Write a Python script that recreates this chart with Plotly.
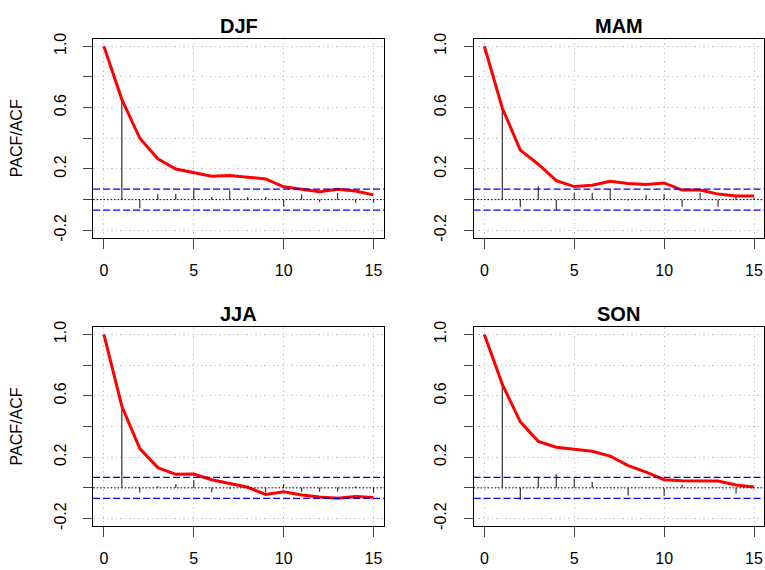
import plotly.graph_objects as go

# ---------------- data ----------------
lags_acf = list(range(0, 16))
lags_pacf = list(range(1, 16))
seasons = ["DJF", "MAM", "JJA", "SON"]

acf_djf = [1.0, 0.654, 0.40, 0.266, 0.20, 0.174, 0.153, 0.157, 0.148, 0.135,
           0.084, 0.067, 0.052, 0.067, 0.056, 0.031]
pacf_djf = [0.654, -0.056, 0.038, 0.038, 0.064, 0.017, 0.06, 0.017, 0.017,
            -0.047, 0.034, -0.015, 0.043, -0.021, -0.021]

acf_mam = [1.0, 0.596, 0.323, 0.231, 0.124, 0.085, 0.094, 0.12, 0.105, 0.098,
           0.109, 0.062, 0.062, 0.036, 0.024, 0.024]
pacf_mam = [0.596, -0.049, 0.088, -0.066, 0.045, 0.045, 0.07, -0.006, 0.032,
            0.036, -0.047, 0.045, -0.047, 0.015, 0.01]

acf_jja = [1.0, 0.532, 0.256, 0.132, 0.088, 0.09, 0.053, 0.03, 0.004, -0.043,
           -0.026, -0.047, -0.06, -0.068, -0.056, -0.062]
pacf_jja = [0.532, -0.03, 0.01, 0.026, 0.049, -0.028, -0.005, 0.01, -0.028,
            0.026, -0.026, -0.026, -0.026, 0.01, -0.032]

acf_son = [1.0, 0.675, 0.43, 0.303, 0.265, 0.254, 0.239, 0.207, 0.145, 0.103,
           0.053, 0.047, 0.045, 0.045, 0.019, 0.006]
pacf_son = [0.675, -0.077, 0.066, 0.088, 0.06, 0.038, 0.003, -0.049, 0.0,
            -0.053, 0.021, 0.0, 0.003, -0.036, 0.0]

ci_bounds = [0.069, 0.069, 0.068, 0.068]

acf_all = [acf_djf, acf_mam, acf_jja, acf_son]
pacf_all = [pacf_djf, pacf_mam, pacf_jja, pacf_son]

x_ticks = [0, 5, 10, 15]
y_ticks = [-0.2, 0.0, 0.2, 0.4, 0.6, 0.8, 1.0]
y_ticktext = ["-0.2", "", "0.2", "", "0.6", "", "1.0"]
y_title = "PACF/ACF"

# ---------------- layout geometry ----------------
W, H = 765, 570
FONT = "Liberation Sans, Arial, Helvetica, sans-serif"
px_per_lag = 18.0
col_left = [93.2, 474.2]
col_right = [384.8, 765.0]
row_top = [33.5, 326.8]
row_bot = [235.8, 529.2]
y_range = [-0.248, 1.048]

fig = go.Figure()

for i, name in enumerate(seasons):
    r, c = divmod(i, 2)
    idx = i + 1
    xa = "x" if idx == 1 else f"x{idx}"
    ya = "y" if idx == 1 else f"y{idx}"
    acf = acf_all[i]
    pacf = pacf_all[i]

    # PACF spikes
    sx, sy = [], []
    for lag, v in zip(lags_pacf, pacf):
        sx += [lag, lag, None]
        sy += [0, v, None]
    fig.add_trace(go.Scatter(x=sx, y=sy, mode="lines",
                             line=dict(color="#333333", width=1.2),
                             xaxis=xa, yaxis=ya, showlegend=False, hoverinfo="skip"))
    # ACF line
    fig.add_trace(go.Scatter(x=lags_acf, y=acf, mode="lines",
                             line=dict(color="#ff0000", width=3),
                             xaxis=xa, yaxis=ya, showlegend=False))

    xref_dom = f"{xa} domain"
    # zero line (dotted black)
    fig.add_shape(type="line", xref=xref_dom, yref=ya, x0=0, x1=1, y0=0, y1=0,
                  line=dict(color="black", width=1, dash="1.5px,2px"))
    # confidence bounds
    for s in (1, -1):
        fig.add_shape(type="line", xref=xref_dom, yref=ya, x0=0, x1=1,
                      y0=s * ci_bounds[i], y1=s * ci_bounds[i],
                      line=dict(color="#0000ff", width=1.3, dash="7px,3px"))

    x0p, x1p = col_left[c], col_right[c]
    y0p, y1p = row_top[r], row_bot[r]
    xdom = [x0p / W, x1p / W]
    ydom = [1 - y1p / H, 1 - y0p / H]
    xr = [-0.6, -0.6 + (x1p - x0p) / px_per_lag]

    axis_common = dict(showline=True, linecolor="black", linewidth=1, mirror=True,
                       ticks="outside", tickcolor="#444444", tickwidth=1,
                       showgrid=True, gridcolor="#cccccc", griddash="1.5px,3px", gridwidth=1.3,
                       zeroline=False, tickfont=dict(family=FONT, size=16, color="black"))
    fig.layout[f"xaxis{'' if idx == 1 else idx}"] = dict(
        domain=xdom, range=xr, anchor=ya, tickvals=x_ticks, ticklen=10,
        ticklabelstandoff=8, **axis_common)
    ycfg = dict(domain=ydom, range=y_range, anchor=xa, tickvals=y_ticks,
                ticktext=y_ticktext, ticklen=9, tickangle=-90,
                ticklabelstandoff=11, **axis_common)
    if c == 0:
        ycfg["title"] = dict(text=y_title, font=dict(family=FONT, size=16, color="black"),
                             standoff=25)
    fig.layout[f"yaxis{'' if idx == 1 else idx}"] = ycfg

    fig.add_annotation(text=f"<b>{name}</b>", xref="paper", yref="paper",
                       x=(xdom[0] + xdom[1]) / 2, y=1 - (y0p - 13) / H,
                       xanchor="center", yanchor="middle", showarrow=False,
                       font=dict(family=FONT, size=20, color="black"))

fig.update_layout(width=W, height=H, margin=dict(l=0, r=0, t=0, b=0),
                  paper_bgcolor="white", plot_bgcolor="white",
                  font=dict(family=FONT, color="black"))

fig.write_html("out.html", config={"displayModeBar": False},
               post_script="document.body.style.margin='0';document.body.style.overflow='hidden';")
